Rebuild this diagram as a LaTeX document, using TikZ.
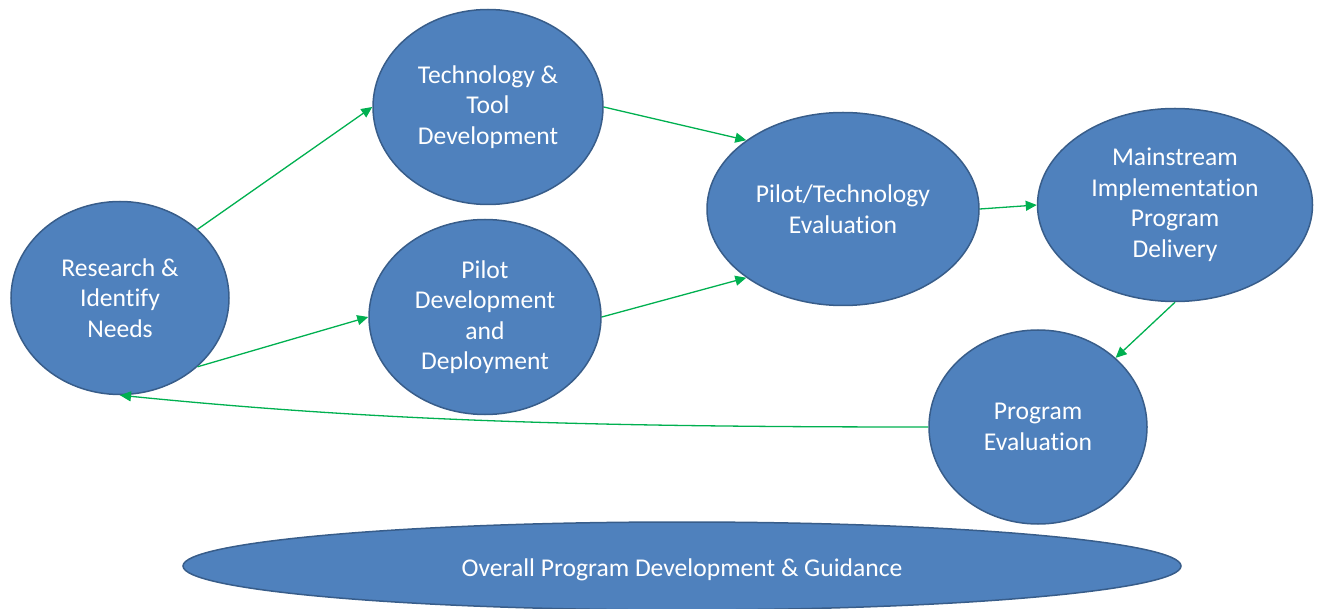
\documentclass[tikz,border=0pt]{standalone}
\usepackage{fontspec}
\setmainfont[Ligatures=NoCommon]{Carlito}
\usetikzlibrary{shapes.geometric,arrows.meta}
\definecolor{stageblue}{RGB}{79,129,189}
\definecolor{stageedge}{RGB}{56,93,138}
\definecolor{flowgreen}{RGB}{0,176,80}
\begin{document}
\begin{tikzpicture}[x=1pt,y=-1pt,
  stage/.style={ellipse, fill=stageblue, draw=stageedge, line width=1.5pt,
    inner sep=0pt, text=white, align=center,
    font=\fontsize{25.6}{30.5}\selectfont},
  flow/.style={draw=flowgreen, line width=1.3pt,
    -{Triangle[length=11pt,width=10pt]}}]
\useasboundingbox (0,0) rectangle (1319,609);

\node[stage, minimum width=218pt, minimum height=193pt] (research) at (120,298)
  {Research \&\\Identify\\Needs};
\node[stage, minimum width=230pt, minimum height=195pt] (tech) at (488,107)
  {Technology \&\\Tool\\Development};
\node[stage, minimum width=232pt, minimum height=195pt] (pilotdev) at (485,317)
  {Pilot\\Development\\and\\Deployment};
\node[stage, minimum width=272pt, minimum height=193pt] (piloteval) at (843,209)
  {Pilot/Technology\\Evaluation};
\node[stage, minimum width=275pt, minimum height=193pt] (mainstream) at (1175,205)
  {Mainstream\\Implementation\\Program\\Delivery};
\node[stage, minimum width=218pt, minimum height=194pt] (progeval) at (1038,427)
  {Program\\Evaluation};
\node[stage, minimum width=998pt, minimum height=88pt,
  text height=27pt, text depth=6pt] (overall) at (682,566)
  {Overall Program Development \& Guidance};

\draw[flow] (research.north east) -- (tech.west);
\draw[flow] (research.south east) -- (pilotdev.west);
\draw[flow] (tech.east) -- (piloteval.north west);
\draw[flow] (pilotdev.east) -- (piloteval.south west);
\draw[flow] (piloteval.east) -- (mainstream.west);
\draw[flow] (mainstream.south) -- (progeval.north east);
\draw[flow] (progeval.west) .. controls +(-350,0) and +(250,25) .. (research.south);
\end{tikzpicture}
\end{document}
